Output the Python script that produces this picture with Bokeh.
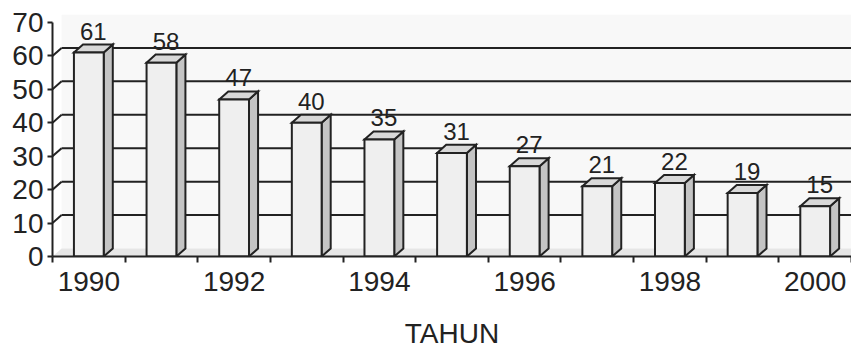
from bokeh.plotting import figure
from bokeh.models import Range1d, FixedTicker, LinearAxis
from bokeh.core.properties import value
from bokeh.embed import file_html
from bokeh.resources import INLINE

# ---- data ----
years = [1990, 1991, 1992, 1993, 1994, 1995, 1996, 1997, 1998, 1999, 2000]
values = [61, 58, 47, 40, 35, 31, 27, 21, 22, 19, 15]
y_ticks = [0, 10, 20, 30, 40, 50, 60, 70]
label_years = [1990, 1992, 1994, 1996, 1998, 2000]
x_title = "TAHUN"

# ---- style constants ----
DX = 0.125      # 3-D depth, x (category units)
DY = 2.4        # 3-D depth, y (value units)
W = 0.41        # bar front width
FONT = "Liberation Sans"
INK = "#222222"

n = len(years)
xs = list(range(n))
ymax = y_ticks[-1]

p = figure(width=851, height=353,
           x_range=Range1d(-0.5, n - 0.5), y_range=Range1d(0, ymax + DY),
           output_backend="svg", toolbar_location=None,
           min_border_left=52, min_border_right=0,
           min_border_top=14, min_border_bottom=97)
p.outline_line_color = None
p.background_fill_color = "white"
p.border_fill_color = "white"
p.grid.visible = False

# back wall and floor
p.quad(left=-0.5 + DX, right=n + 1, bottom=DY, top=ymax + DY,
       fill_color="#f8f8f8", line_color=None)
p.patch([-0.5, n + 1, n + 1, -0.5 + DX], [0, 0, DY, DY],
        fill_color="#e6e6e6", line_color=None)

# gridlines on the back wall + diagonal links to the axis
gv = y_ticks[1:-1]
p.segment(x0=[-0.5 + DX] * len(gv), y0=[v + DY for v in gv],
          x1=[n + 1] * len(gv), y1=[v + DY for v in gv],
          line_color=INK, line_width=2)
p.segment(x0=[-0.5] * len(gv), y0=gv,
          x1=[-0.5 + DX] * len(gv), y1=[v + DY for v in gv],
          line_color=INK, line_width=2)

# bars: side faces, top faces, front faces
side_x, side_y, top_x, top_y = [], [], [], []
for x, v in zip(xs, values):
    r = x + W / 2
    l = x - W / 2
    side_x.append([r, r + DX, r + DX, r])
    side_y.append([0, DY, v + DY, v])
    top_x.append([l, r, r + DX, l + DX])
    top_y.append([v, v, v + DY, v + DY])
p.patches(side_x, side_y, fill_color="#c4c4c4", line_color=INK, line_width=2,
          line_join="miter")
p.patches(top_x, top_y, fill_color="#d8d8d8", line_color=INK, line_width=2,
          line_join="miter")
p.vbar(x=xs, top=values, bottom=0, width=W, fill_color="#efefef",
       line_color=INK, line_width=2, line_join="miter")

# value labels
p.text(x=[x + DX / 2 for x in xs], y=[v + DY for v in values],
       text=[str(v) for v in values], text_align="center",
       text_baseline="bottom", y_offset=-5,
       text_font=value(FONT), text_font_size="24px", text_color=INK)

# y axis
ya = p.yaxis[0]
ya.ticker = FixedTicker(ticks=y_ticks)
ya.bounds = (0, ymax)
ya.major_tick_out = 5
ya.major_tick_in = 0
ya.minor_tick_line_color = None
ya.axis_line_width = 2
ya.axis_line_color = INK
ya.major_tick_line_width = 2
ya.major_tick_line_color = INK
ya.major_label_standoff = 4
ya.major_label_text_font = FONT
ya.major_label_text_font_size = "28px"
ya.major_label_text_color = INK

# x axis: tick marks at category boundaries
bounds_ticks = [i - 0.5 for i in range(n + 1)]
xa = p.xaxis[0]
xa.ticker = FixedTicker(ticks=bounds_ticks)
xa.major_label_overrides = {t: "" for t in bounds_ticks}
xa.major_label_text_font_size = "0px"
xa.major_label_standoff = 0
xa.major_tick_out = 6
xa.major_tick_in = 0
xa.minor_tick_line_color = None
xa.axis_line_width = 2
xa.axis_line_color = INK
xa.major_tick_line_width = 2
xa.major_tick_line_color = INK

# x axis: year labels at category centres
label_pos = [float(years.index(y)) for y in label_years]
xa2 = LinearAxis(ticker=FixedTicker(ticks=label_pos),
                 major_label_overrides={pos: str(y) for pos, y in zip(label_pos, label_years)},
                 axis_line_color=None, major_tick_line_color=None,
                 minor_tick_line_color=None,
                 major_label_standoff=3,
                 major_label_text_font=FONT, major_label_text_font_size="28px",
                 major_label_text_color=INK,
                 axis_label=x_title, axis_label_standoff=24,
                 axis_label_text_font=FONT, axis_label_text_font_size="28px",
                 axis_label_text_font_style="normal", axis_label_text_color=INK)
p.add_layout(xa2, "below")

open("out.html", "w").write(file_html(p, INLINE))
